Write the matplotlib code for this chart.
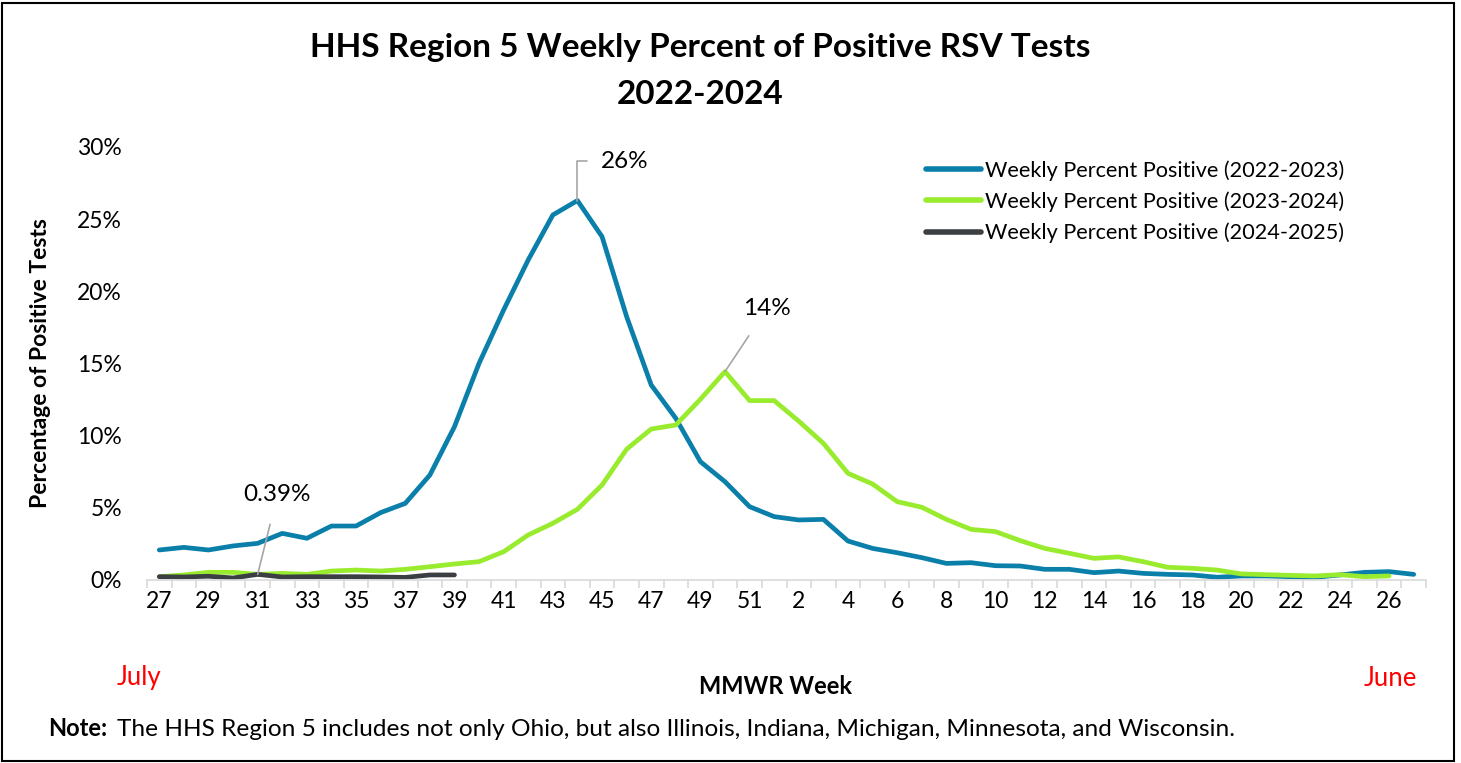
import numpy as np
import matplotlib.pyplot as plt
from matplotlib.patches import Rectangle

plt.rcParams['font.family'] = ['Lato', 'DejaVu Sans']

# MMWR week categories (July -> June)
weeks = [27, 28, 29, 30, 31, 32, 33, 34, 35, 36, 37, 38, 39, 40, 41, 42, 43, 44, 45, 46, 47, 48, 49, 50, 51, 52,
         2, 3, 4, 5, 6, 7, 8, 9, 10, 11, 12, 13, 14, 15, 16, 17, 18, 19, 20, 21, 22, 23, 24, 25, 26, 27]

# weekly percent positive (%)
pos_2022 = [2.08, 2.26, 2.08, 2.36, 2.54, 3.23, 2.89, 3.74, 3.74, 4.67, 5.31, 7.27, 10.62, 15.01, 18.71, 22.18,
            25.29, 26.29, 23.79, 18.25, 13.51, 11.2, 8.2, 6.81, 5.08, 4.39, 4.16, 4.2, 2.70, 2.19, 1.89, 1.55,
            1.15, 1.2, 0.99, 0.97, 0.74, 0.74, 0.51, 0.62, 0.46, 0.39, 0.35, 0.19, 0.28, 0.28, 0.23, 0.19,
            0.35, 0.53, 0.58, 0.39]
pos_2023 = [0.23, 0.35, 0.53, 0.53, 0.39, 0.46, 0.39, 0.62, 0.69, 0.62, 0.74, 0.92, 1.11, 1.27, 1.96, 3.12,
            3.93, 4.9, 6.58, 9.06, 10.46, 10.74, 12.52, 14.44, 12.43, 12.43, 11.0, 9.47, 7.39, 6.65, 5.43, 5.04,
            4.2, 3.51, 3.35, 2.73, 2.19, 1.85, 1.5, 1.6, 1.27, 0.88, 0.81, 0.69, 0.42, 0.37, 0.32, 0.28,
            0.37, 0.23, 0.28]
pos_2024 = [0.23, 0.21, 0.26, 0.14, 0.39, 0.21, 0.23, 0.23, 0.23, 0.21, 0.18, 0.35, 0.35]

c_blue = '#0A7FAA'
c_green = '#99EB2E'
c_dark = '#3B3F43'

fs_tick = 16.5
fs_label = 17.5

fig = plt.figure(figsize=(14.61, 7.63), dpi=100)
ax = fig.add_axes([147 / 1461, 1 - 580 / 763, (1426 - 147) / 1461, (580 - 147) / 763])

x_all = np.arange(len(weeks))
ax.plot(x_all[:len(pos_2022)], np.array(pos_2022) / 100, color=c_blue, lw=3.4,
        solid_capstyle='round', label='Weekly Percent Positive (2022-2023)')
ax.plot(x_all[:len(pos_2023)], np.array(pos_2023) / 100, color=c_green, lw=3.4,
        solid_capstyle='round', label='Weekly Percent Positive (2023-2024)')
ax.plot(x_all[:len(pos_2024)], np.array(pos_2024) / 100, color=c_dark, lw=3.4,
        solid_capstyle='round', label='Weekly Percent Positive (2024-2025)')

ax.set_xlim(-0.5, len(weeks) - 0.5)
ax.set_ylim(0, 0.30)
ax.set_yticks([0, 0.05, 0.10, 0.15, 0.20, 0.25, 0.30])
ax.set_yticklabels(['0%', '5%', '10%', '15%', '20%', '25%', '30%'])
ax.set_xticks(x_all[::2])
ax.set_xticklabels([str(w) for w in weeks[::2]])
ax.set_xticks(np.arange(-0.5, len(weeks), 1), minor=True)
ax.tick_params(axis='x', which='major', length=0, pad=8, labelsize=fs_tick)
ax.tick_params(axis='x', which='minor', length=6, color='#D9D9D9', width=1.2)
ax.tick_params(axis='y', length=0, pad=18, labelsize=fs_tick)

for s in ['top', 'right', 'left']:
    ax.spines[s].set_visible(False)
ax.spines['bottom'].set_color('#D9D9D9')
ax.spines['bottom'].set_linewidth(1.2)

ax.set_ylabel('Percentage of Positive Tests', fontsize=16.5, fontweight='bold', labelpad=19)

# data labels with leader lines
i26 = pos_2022.index(max(pos_2022))
ax.annotate('26%', xy=(i26, pos_2022[i26] / 100), xytext=(i26 + 0.95, 0.290), fontsize=fs_label,
            ha='left', va='center',
            arrowprops=dict(arrowstyle='-', color='#A6A6A6', lw=1.2,
                            connectionstyle='angle,angleA=0,angleB=90,rad=0', shrinkA=8, shrinkB=0))
i14 = pos_2023.index(max(pos_2023))
ax.annotate('14%', xy=(i14, pos_2023[i14] / 100), xytext=(i14 + 1.7, 0.188), fontsize=fs_label,
            ha='center', va='center',
            arrowprops=dict(arrowstyle='-', color='#A6A6A6', lw=1.2, shrinkA=12, shrinkB=0))
ax.annotate('0.39%', xy=(4, pos_2024[4] / 100), xytext=(4.8, 0.059), fontsize=fs_label,
            ha='center', va='center',
            arrowprops=dict(arrowstyle='-', color='#A6A6A6', lw=1.2, shrinkA=12, shrinkB=0))

leg = ax.legend(loc='upper left', bbox_to_anchor=(0.602, 0.99), frameon=False, fontsize=15.6,
                handlelength=2.55, handletextpad=0.2, labelspacing=0.5, borderaxespad=0)
for h in leg.get_lines():
    h.set_linewidth(4)

fig.text(700 / 1461, 1 - 48 / 763, 'HHS Region 5 Weekly Percent of Positive RSV Tests', ha='center', va='center',
         fontsize=24, fontweight='bold')
fig.text(700 / 1461, 1 - 95 / 763, '2022-2024', ha='center', va='center', fontsize=24, fontweight='bold')

fig.text(776 / 1461, 1 - 686 / 763, 'MMWR Week', ha='center', va='center', fontsize=17, fontweight='bold')
fig.text(139 / 1461, 1 - 678 / 763, 'July', ha='center', va='center', fontsize=18.5, color='red')
fig.text(1390 / 1461, 1 - 678 / 763, 'June', ha='center', va='center', fontsize=18.5, color='red')

fig.text(48 / 1461, 1 - 729 / 763, 'Note:', ha='left', va='center', fontsize=17, fontweight='bold')
fig.text(117 / 1461, 1 - 729 / 763,
         'The HHS Region 5 includes not only Ohio, but also Illinois, Indiana, Michigan, Minnesota, and Wisconsin.',
         ha='left', va='center', fontsize=17.6)

fig.add_artist(Rectangle((2 / 1461, 2 / 763), 1452 / 1461, 758 / 763, transform=fig.transFigure,
                         fill=False, edgecolor='black', lw=1.5))

fig.savefig('out.png', dpi=100)
